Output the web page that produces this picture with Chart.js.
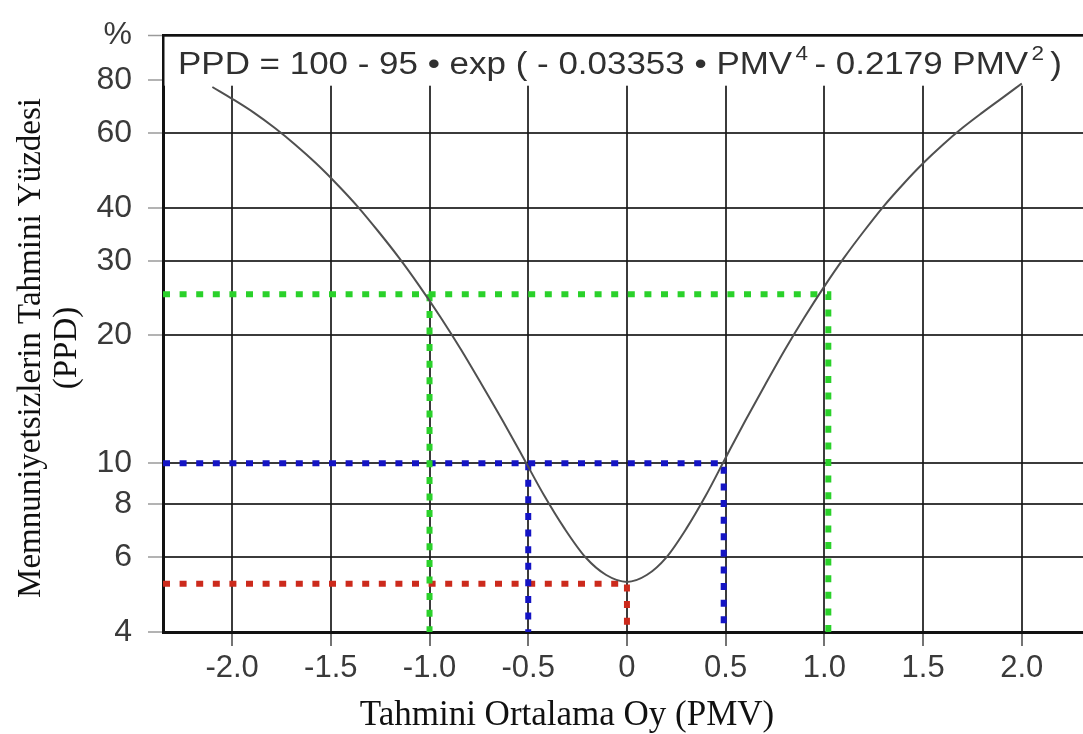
<!DOCTYPE html>
<html><head><meta charset="utf-8">
<script src="https://cdn.jsdelivr.net/npm/chart.js@4.4.1/dist/chart.umd.min.js"></script>
<style>html,body{margin:0;padding:0;background:#fff;}#wrap{width:1083px;height:734px;position:relative;overflow:hidden;}</style>
</head><body><div id="wrap"><canvas id="c" width="1083" height="734"></canvas></div>
<script>
// ---- data ----
const pmvValues = [-2.10, -1.995, -1.89, -1.785, -1.68, -1.575, -1.47, -1.365, -1.26, -1.155, -1.05,
  -0.945, -0.84, -0.735, -0.63, -0.525, -0.42, -0.315, -0.21, -0.105, 0.0,
  0.1, 0.2, 0.3, 0.4, 0.5, 0.6, 0.7, 0.8, 0.9, 1.0, 1.1, 1.2, 1.3, 1.4, 1.5, 1.6, 1.7, 1.8, 1.9, 2.0];
const ppdValues = [77, 72.0, 67.0, 61.7, 56.3, 50.9, 45.5, 40.3, 35.2, 30.5, 26.1,
  22.1, 18.5, 15.3, 12.6, 10.3, 8.4, 7.0, 6.0, 5.45, 5.25,
  5.45, 6.0, 7.0, 8.4, 10.3, 12.6, 15.3, 18.5, 22.1, 26.1, 30.5, 35.2, 40.3, 45.5, 50.9, 56.3, 61.7, 67.0, 72.5, 78.5];

const xTickValues = [-2, -1.5, -1, -0.5, 0, 0.5, 1, 1.5, 2];
const xTickLabels = ['-2.0', '-1.5', '-1.0', '-0.5', '0', '0.5', '1.0', '1.5', '2.0'];
const yTickValues = [4, 6, 8, 10, 20, 30, 40, 60, 80];
const yTopLabel = '%';
const xMin = -2.35, xMax = 2.31, yMin = 4, yMax = 102;

const greenPathX = [-2.35, 1.02, 1.02];
const greenPathY = [25, 25, 4];
const greenDropX = [-1.0, -1.0];
const greenDropY = [25, 4];
const bluePathX = [-2.35, 0.49, 0.49];
const bluePathY = [10, 10, 4];
const blueDropX = [-0.5, -0.5];
const blueDropY = [10, 4];
const redPathX = [-2.35, 0, 0];
const redPathY = [5.2, 5.2, 4];

const xTitle = 'Tahmini Ortalama Oy (PMV)';
const yTitleLines = ['Memnuniyetsizlerin Tahmini Yüzdesi', '(PPD)'];
const equationParts = [
  {t: 'PPD = 100 - 95 \u2022 exp ( - 0.03353 \u2022 PMV', sup: false},
  {t: '4', sup: true},
  {t: ' - 0.2179 PMV', sup: false},
  {t: '2', sup: true},
  {t: ' )', sup: false}
];

const pts = (xs, ys) => xs.map((x, i) => ({x: x, y: ys[i]}));

function dotted(xs, ys, color) {
  return {data: pts(xs, ys), borderColor: color, borderWidth: 6, borderDash: [7, 9.6],
    borderCapStyle: 'butt', pointRadius: 0, tension: 0, fill: false};
}

const overlay = {
  id: 'overlay',
  beforeDatasetsDraw(chart) {
    const {ctx, chartArea: a} = chart;
    ctx.save();
    ctx.fillStyle = '#fff';
    ctx.fillRect(a.left + 1.5, a.top + 1.5, a.right - a.left, 49);
    ctx.restore();
  },
  afterDraw(chart) {
    const ctx = chart.ctx;
    // equation
    ctx.save();
    const mainFont = '31px "Liberation Sans", Arial, sans-serif';
    const supFont = '20px "Liberation Sans", Arial, sans-serif';
    let total = 0;
    const widths = equationParts.map(p => { ctx.font = p.sup ? supFont : mainFont; const w = ctx.measureText(p.t).width; total += w; return w; });
    const sx = 884 / total;
    ctx.translate(178, 74);
    ctx.scale(sx, 1);
    ctx.fillStyle = '#303030';
    ctx.textBaseline = 'alphabetic';
    ctx.textAlign = 'left';
    let xx = 0;
    equationParts.forEach((p, i) => {
      ctx.font = p.sup ? supFont : mainFont;
      ctx.fillText(p.t, xx + (p.sup ? 3 : 0), p.sup ? -14 : 0);
      xx += widths[i];
    });
    ctx.restore();
    // x title
    ctx.save();
    ctx.font = '35px "Liberation Serif", "Times New Roman", serif';
    ctx.fillStyle = '#111';
    ctx.textAlign = 'center';
    ctx.textBaseline = 'middle';
    ctx.fillText(xTitle, 567, 716);
    ctx.restore();
    // y title
    ctx.save();
    ctx.font = '33px "Liberation Serif", "Times New Roman", serif';
    ctx.fillStyle = '#111';
    ctx.textAlign = 'center';
    ctx.textBaseline = 'middle';
    ctx.translate(31, 348);
    ctx.rotate(-Math.PI / 2);
    ctx.fillText(yTitleLines[0], 0, 0);
    ctx.fillText(yTitleLines[1], 0, 36);
    ctx.restore();
  }
};

new Chart(document.getElementById('c'), {
  type: 'line',
  data: {
    datasets: [
      {data: pts(pmvValues, ppdValues), borderColor: '#505050', borderWidth: 2, pointRadius: 0,
        cubicInterpolationMode: 'monotone', fill: false},
      dotted(greenPathX, greenPathY, '#2ad12a'),
      dotted(greenDropX, greenDropY, '#2ad12a'),
      dotted(bluePathX, bluePathY, '#1414c4'),
      dotted(blueDropX, blueDropY, '#1414c4'),
      dotted(redPathX, redPathY, '#cc2a1c')
    ]
  },
  options: {
    responsive: false,
    animation: false,
    events: [],
    layout: {padding: {top: 31, right: 0, bottom: 0, left: 0}},
    plugins: {legend: {display: false}, tooltip: {enabled: false}, title: {display: false}},
    scales: {
      x: {
        type: 'linear', min: xMin, max: xMax,
        afterBuildTicks: s => { s.ticks = xTickValues.map(v => ({value: v})); },
        afterFit: s => { s.height = 102; },
        grid: {color: 'rgba(25,25,25,0.85)', lineWidth: 2, tickLength: 14, tickColor: '#444', tickWidth: 1.5},
        border: {display: true, color: '#111', width: 3},
        ticks: {
          padding: 4, color: '#3a3a3a', maxRotation: 0, autoSkip: false,
          font: {family: '"Liberation Sans", Arial, sans-serif', size: 31},
          callback: (v) => { const i = xTickValues.indexOf(v); return i >= 0 ? xTickLabels[i] : ''; }
        }
      },
      y: {
        type: 'logarithmic', min: yMin, max: yMax,
        afterBuildTicks: s => { s.ticks = yTickValues.concat([yMax]).map(v => ({value: v})); },
        afterFit: s => { s.width = 163; },
        grid: {
          color: (c) => (c.tick && c.tick.value === yMax) ? '#111' : 'rgba(25,25,25,0.85)',
          lineWidth: (c) => (c.tick && c.tick.value === yMax) ? 3 : 2,
          tickLength: 15, tickColor: '#9a9a9a', tickWidth: 1.5
        },
        border: {display: true, color: '#111', width: 3},
        ticks: {
          padding: 16, color: '#3a3a3a', autoSkip: false,
          font: {family: '"Liberation Sans", Arial, sans-serif', size: 32},
          callback: (v) => v === yMax ? yTopLabel : String(v)
        }
      }
    }
  },
  plugins: [overlay]
});
</script></body></html>
